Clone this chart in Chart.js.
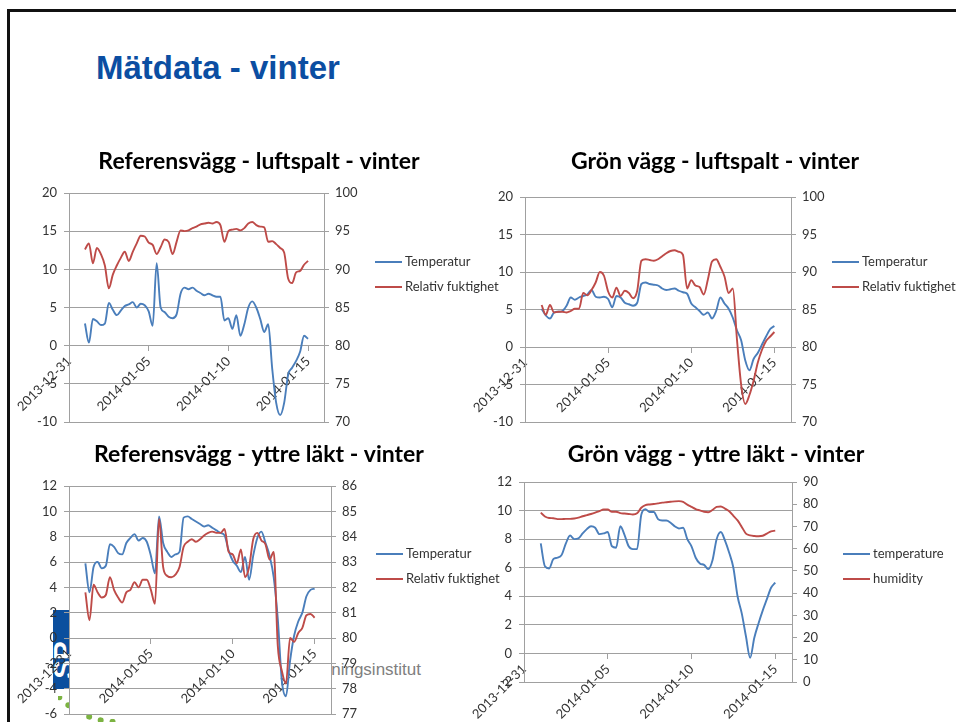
<!DOCTYPE html>
<html lang="sv">
<head>
<meta charset="utf-8">
<title>Mätdata - vinter</title>
<script src="https://cdn.jsdelivr.net/npm/chart.js@4.4.1/dist/chart.umd.min.js"></script>
<style>
  html, body { margin: 0; padding: 0; background: #fff; overflow: hidden; }
  body { width: 956px; height: 722px; position: relative; font-family: Lato, 'Noto Sans', sans-serif; }
  .slide-frame { position: absolute; left: 7px; top: 9px; right: -10px; bottom: -10px; border-left: 3px solid #111; border-top: 3px solid #111; }
  .slide-title { position: absolute; left: 96px; top: 51px; margin: 0; font: bold 33px/33px 'Liberation Sans', Arial, sans-serif; color: #0b4ea2; white-space: nowrap; }
  .logo-box { position: absolute; left: 53px; top: 610px; width: 24px; height: 79px; background: #0b4f9e; overflow: hidden; }
  .logo-box span { position: absolute; left: -8px; top: 36px; transform: rotate(-90deg); color: #fff; font: bold 28px/28px 'Liberation Sans', Arial, sans-serif; }
  .logo-clip { position: absolute; left: 58px; top: 696px; width: 60px; height: 26px; overflow: hidden; }
  .logo-arc { position: absolute; left: -25px; top: -141px; width: 170px; height: 170px; box-sizing: border-box; border: 6px dotted #7cb342; border-radius: 50%; }
  .logo-text { position: absolute; right: 535px; top: 661px; font: 17px/17px 'Liberation Sans', Arial, sans-serif; color: #808080; white-space: nowrap; }
  canvas { position: absolute; }
  .legend { position: absolute; font: 13px/25px Lato, sans-serif; color: #333; white-space: nowrap; }
  .legend-row { height: 25px; display: flex; align-items: center; }
  .legend-swatch { display: inline-block; width: 27px; height: 0; border-top: 2px solid; margin-right: 3px; }
</style>
</head>
<body>
<div class="slide-frame"></div>
<h1 class="slide-title">Mätdata - vinter</h1>
<div class="logo-box"><span>SP</span></div>
<div class="logo-clip"><div class="logo-arc"></div></div>
<div class="logo-text">SP Sveriges Tekniska Forskningsinstitut</div>

<canvas id="chart-ref-luft" width="498" height="300" style="left:10px;top:140px"></canvas>
<canvas id="chart-gron-luft" width="494" height="300" style="left:468px;top:140px"></canvas>
<canvas id="chart-ref-lakt" width="498" height="282" style="left:10px;top:440px"></canvas>
<canvas id="chart-gron-lakt" width="496" height="282" style="left:468px;top:440px"></canvas>

<div class="legend" id="legend-ref-luft" style="left:375px;top:249px"></div>
<div class="legend" id="legend-gron-luft" style="left:832px;top:249px"></div>
<div class="legend" id="legend-ref-lakt" style="left:376px;top:541px"></div>
<div class="legend" id="legend-gron-lakt" style="left:843px;top:541px"></div>

<script>
// days after 2013-12-31, one reading every 6 hours
var dayGrid = [1, 1.25, 1.5, 1.75, 2, 2.25, 2.5, 2.75, 3, 3.25, 3.5, 3.75, 4, 4.25, 4.5, 4.75,
  5, 5.25, 5.5, 5.75, 6, 6.25, 6.5, 6.75, 7, 7.25, 7.5, 7.75, 8, 8.25, 8.5, 8.75,
  9, 9.25, 9.5, 9.75, 10, 10.25, 10.5, 10.75, 11, 11.25, 11.5, 11.75, 12, 12.25, 12.5, 12.75,
  13, 13.25, 13.5, 13.75, 14, 14.25, 14.5, 14.75, 15];
var tickDays = [0, 5, 10, 15];
var dateTicks = ['2013-12-31', '2014-01-05', '2014-01-10', '2014-01-15'];

// Referensvägg - luftspalt
var refLuftTemp = [2.9, 0.4, 3.5, 3.2, 2.7, 2.9, 5.6, 4.7, 4.0, 4.6, 5.2, 5.4, 5.7, 5.0, 5.5, 5.3,
  4.5, 2.6, 10.8, 5.0, 4.4, 3.8, 3.6, 4.1, 6.8, 7.6, 7.4, 7.6, 7.2, 6.9, 6.6, 6.8,
  6.6, 6.4, 6.4, 3.3, 3.6, 2.2, 4.0, 1.3, 2.8, 5.0, 5.8, 5.0, 3.5, 1.8, 2.8, -3.0,
  -7.5, -9.1, -7.5, -3.8, -2.9, -2.0, -0.8, 1.3, 0.9];
var refLuftRh = [92.6, 93.4, 90.8, 92.8, 92.0, 90.5, 87.5, 89.3, 90.5, 91.5, 92.3, 91.1, 92.3, 93.4, 94.4, 94.3,
  93.5, 93.2, 92.0, 92.9, 93.9, 93.6, 92.0, 93.6, 95.1, 95.0, 95.1, 95.4, 95.6, 95.9, 96.0, 96.1,
  96.0, 96.2, 95.8, 93.6, 95.0, 95.2, 95.3, 95.1, 95.4, 96.0, 96.2, 95.8, 95.6, 95.5, 93.6, 93.7,
  93.3, 92.8, 92.2, 88.8, 88.2, 89.6, 89.8, 90.6, 91.1];

// Grön vägg - luftspalt
var gronLuftTemp = [5.1, 4.2, 3.8, 4.6, 4.7, 4.8, 5.5, 6.6, 6.3, 6.6, 6.8, 7.0, 7.6, 6.7, 6.6, 6.7,
  6.4, 5.3, 6.8, 6.6, 5.9, 5.7, 5.5, 5.9, 8.4, 8.6, 8.4, 8.3, 8.2, 7.8, 7.6, 7.7,
  7.8, 7.5, 7.3, 7.1, 5.8, 5.3, 4.8, 4.3, 4.6, 3.8, 4.8, 6.6, 5.8, 5.1, 3.9, 2.2,
  0.9, -1.8, -3.1, -1.6, -0.8, 0.3, 1.4, 2.4, 2.8];
var gronLuftRh = [85.6, 84.3, 85.6, 84.6, 84.7, 84.7, 84.6, 84.8, 85.1, 85.1, 87.2, 86.9, 87.6, 88.6, 90.0, 89.5,
  87.4, 86.6, 87.9, 86.8, 87.5, 87.2, 86.5, 87.5, 91.5, 91.7, 91.6, 91.5, 91.7, 92.1, 92.5, 92.8,
  92.9, 92.7, 92.3, 87.8, 88.9, 88.2, 88.0, 87.0, 89.0, 91.4, 91.7, 90.7, 89.4, 87.2, 87.8, 81.0,
  75.0, 72.4, 73.6, 75.5, 77.9, 79.6, 80.8, 81.4, 82.0];

// Referensvägg - yttre läkt
var refLaktTemp = [5.9, 3.6, 5.6, 6.0, 5.5, 5.7, 7.4, 7.2, 6.7, 6.6, 7.5, 7.9, 8.2, 7.7, 7.9, 7.6,
  6.5, 5.1, 9.6, 7.5, 6.8, 6.4, 6.6, 6.8, 9.5, 9.6, 9.4, 9.2, 9.0, 8.8, 8.9, 8.7,
  8.5, 8.3, 8.1, 6.9, 6.1, 5.7, 5.2, 6.4, 4.6, 6.5, 7.9, 8.4, 7.5, 6.5, 4.8, 1.5,
  -3.4, -4.6, -1.8, 0.2, 1.3, 2.0, 3.3, 3.8, 3.9];
var refLaktRh = [81.8, 80.7, 82.1, 81.8, 81.6, 81.7, 82.4, 81.9, 81.6, 81.4, 81.8, 81.9, 82.2, 82.0, 82.3, 82.3,
  81.9, 81.35, 84.7, 82.8, 82.45, 82.4, 82.5, 82.8, 83.6, 83.8, 83.9, 83.8, 83.9, 84.05, 84.15, 84.2,
  84.15, 84.15, 84.3, 83.4, 83.3, 82.95, 83.5, 82.4, 82.8, 83.9, 84.15, 83.85, 83.7, 83.1, 83.4, 79.7,
  78.7, 78.2, 80.0, 79.85, 80.2, 80.4, 80.9, 80.95, 80.8];

// Grön vägg - yttre läkt
var gronLaktTemp = [7.7, 6.1, 5.95, 6.6, 6.7, 6.9, 7.7, 8.25, 8.0, 8.05, 8.4, 8.7, 8.9, 8.8, 8.35, 8.4,
  8.5, 7.5, 7.4, 8.9, 8.3, 7.5, 7.3, 7.3, 9.7, 10.1, 9.9, 9.9, 9.4, 9.3, 9.3, 9.15,
  8.9, 8.75, 8.8, 8.0, 7.5, 6.7, 6.3, 6.2, 5.9, 6.5, 8.0, 8.5, 7.9, 7.05, 6.0, 4.0,
  2.8, 1.2, -0.3, 1.1, 2.1, 3.0, 3.8, 4.6, 4.95];
var gronLaktRh = [76.2, 74.5, 73.8, 73.7, 73.3, 73.3, 73.4, 73.4, 73.6, 74.0, 74.6, 75.1, 75.6, 76.2, 76.9, 77.6,
  77.6, 76.6, 76.6, 76.0, 75.8, 75.6, 75.4, 75.9, 78.4, 79.6, 79.9, 80.1, 80.4, 80.7, 80.9, 81.1,
  81.3, 81.4, 81.1, 79.8, 78.8, 77.8, 77.2, 76.6, 76.4, 77.4, 78.8, 79.0, 78.0, 76.8, 74.8, 72.7,
  69.8, 66.8, 66.0, 65.7, 65.6, 65.8, 66.8, 67.8, 68.1];

(function () {
  'use strict';

  var BLUE = '#4a7ebb';
  var RED = '#be4b48';
  var GRID = '#a0a0a0';
  var INK = '#333333';
  var tickFont = { family: 'Lato', size: 13 };

  // rightWidth = secondary axis plus the room kept free for the legend
  var charts = [
    {
      id: 'chart-ref-luft', legend: 'legend-ref-luft',
      title: 'Referensvägg - luftspalt - vinter',
      names: ['Temperatur', 'Relativ fuktighet'],
      temp: refLuftTemp, rh: refLuftRh,
      y: { min: -10, max: 20, step: 5 }, y2: { min: 70, max: 100, step: 5 },
      leftWidth: 59, rightWidth: 184, padBottom: 18, titleTop: 8.2, titleGap: 17.2
    },
    {
      id: 'chart-gron-luft', legend: 'legend-gron-luft',
      title: 'Grön vägg - luftspalt - vinter',
      names: ['Temperatur', 'Relativ fuktighet'],
      temp: gronLuftTemp, rh: gronLuftRh,
      y: { min: -10, max: 20, step: 5 }, y2: { min: 70, max: 100, step: 5 },
      leftWidth: 57, rightWidth: 171, padBottom: 18, titleTop: 8.2, titleGap: 21.2
    },
    {
      id: 'chart-ref-lakt', legend: 'legend-ref-lakt',
      title: 'Referensvägg - yttre läkt - vinter',
      names: ['Temperatur', 'Relativ fuktighet'],
      temp: refLaktTemp, rh: refLaktRh,
      y: { min: -6, max: 12, step: 2 }, y2: { min: 77, max: 86, step: 1 },
      leftWidth: 59, rightWidth: 177, padBottom: 8, titleTop: 1.2, titleGap: 17.2
    },
    {
      id: 'chart-gron-lakt', legend: 'legend-gron-lakt',
      title: 'Grön vägg - yttre läkt - vinter',
      names: ['temperature', 'humidity'],
      temp: gronLaktTemp, rh: gronLaktRh,
      y: { min: -2, max: 12, step: 2 }, y2: { min: 0, max: 90, step: 10 },
      leftWidth: 56, rightWidth: 172, padBottom: 40, titleTop: 1.2, titleGap: 13.2
    }
  ];

  // white plot area, so the logo behind the page only shows outside it
  var plotFill = {
    id: 'plotFill',
    beforeDraw: function (chart) {
      var a = chart.chartArea;
      var ctx = chart.ctx;
      ctx.save();
      ctx.fillStyle = '#ffffff';
      ctx.fillRect(a.left, a.top, a.right - a.left, a.bottom - a.top);
      ctx.restore();
    }
  };

  function fixedWidth(w) {
    return function (scale) {
      scale.width = w;
      scale.paddingTop = 0;
      scale.paddingBottom = 0;
    };
  }

  function makeChart(spec) {
    var canvas = document.getElementById(spec.id);
    return new Chart(canvas, {
      type: 'line',
      data: {
        labels: dayGrid,
        datasets: [
          { label: spec.names[0], data: spec.temp, yAxisID: 'y', borderColor: BLUE, order: 1 },
          { label: spec.names[1], data: spec.rh, yAxisID: 'y2', borderColor: RED, order: 0 }
        ]
      },
      options: {
        responsive: false,
        animation: false,
        events: [],
        layout: { padding: { left: 0, top: 0, right: 0, bottom: spec.padBottom } },
        elements: {
          point: { radius: 0 },
          line: { borderWidth: 1.9, cubicInterpolationMode: 'monotone', fill: false }
        },
        plugins: {
          legend: { display: false },
          tooltip: { enabled: false },
          title: {
            display: true,
            text: spec.title,
            color: '#000',
            font: { family: 'Lato', size: 23, weight: 'bold' },
            padding: { top: spec.titleTop, bottom: spec.titleGap }
          }
        },
        scales: {
          x: {
            type: 'linear',
            min: 0,
            max: 16,
            position: { y: 0 },
            afterBuildTicks: function (scale) {
              scale.ticks = tickDays.map(function (d) { return { value: d }; });
            },
            afterFit: function (scale) {
              scale.paddingLeft = 0;
              scale.paddingRight = 0;
            },
            grid: { drawOnChartArea: false, drawTicks: true, tickLength: 5, color: GRID },
            border: { color: GRID },
            ticks: {
              autoSkip: false,
              minRotation: 45,
              maxRotation: 45,
              padding: 3,
              color: INK,
              font: tickFont,
              callback: function (value) {
                var i = tickDays.indexOf(value);
                return i >= 0 ? dateTicks[i] : '';
              }
            }
          },
          y: {
            position: 'left',
            min: spec.y.min,
            max: spec.y.max,
            afterFit: fixedWidth(spec.leftWidth),
            grid: { color: GRID, tickLength: 5 },
            border: { color: GRID },
            ticks: { stepSize: spec.y.step, padding: 7, color: INK, font: tickFont }
          },
          y2: {
            position: 'right',
            min: spec.y2.min,
            max: spec.y2.max,
            afterFit: fixedWidth(spec.rightWidth),
            grid: { drawOnChartArea: false, color: GRID, tickLength: 5 },
            border: { color: GRID },
            ticks: { stepSize: spec.y2.step, padding: 6, color: INK, font: tickFont }
          }
        }
      },
      plugins: [plotFill]
    });
  }

  function buildLegend(chart, boxId) {
    var box = document.getElementById(boxId);
    chart.data.datasets.forEach(function (ds) {
      var row = document.createElement('div');
      row.className = 'legend-row';
      var swatch = document.createElement('span');
      swatch.className = 'legend-swatch';
      swatch.style.borderTopColor = ds.borderColor;
      var text = document.createElement('span');
      text.textContent = ds.label;
      row.appendChild(swatch);
      row.appendChild(text);
      box.appendChild(row);
    });
  }

  function drawAll() {
    charts.forEach(function (spec) {
      var chart = makeChart(spec);
      buildLegend(chart, spec.legend);
    });
  }

  if (document.fonts && document.fonts.load) {
    Promise.all([
      document.fonts.load('bold 23px Lato'),
      document.fonts.load('13px Lato')
    ]).then(drawAll, drawAll);
  } else {
    drawAll();
  }
})();
</script>
</body>
</html>
